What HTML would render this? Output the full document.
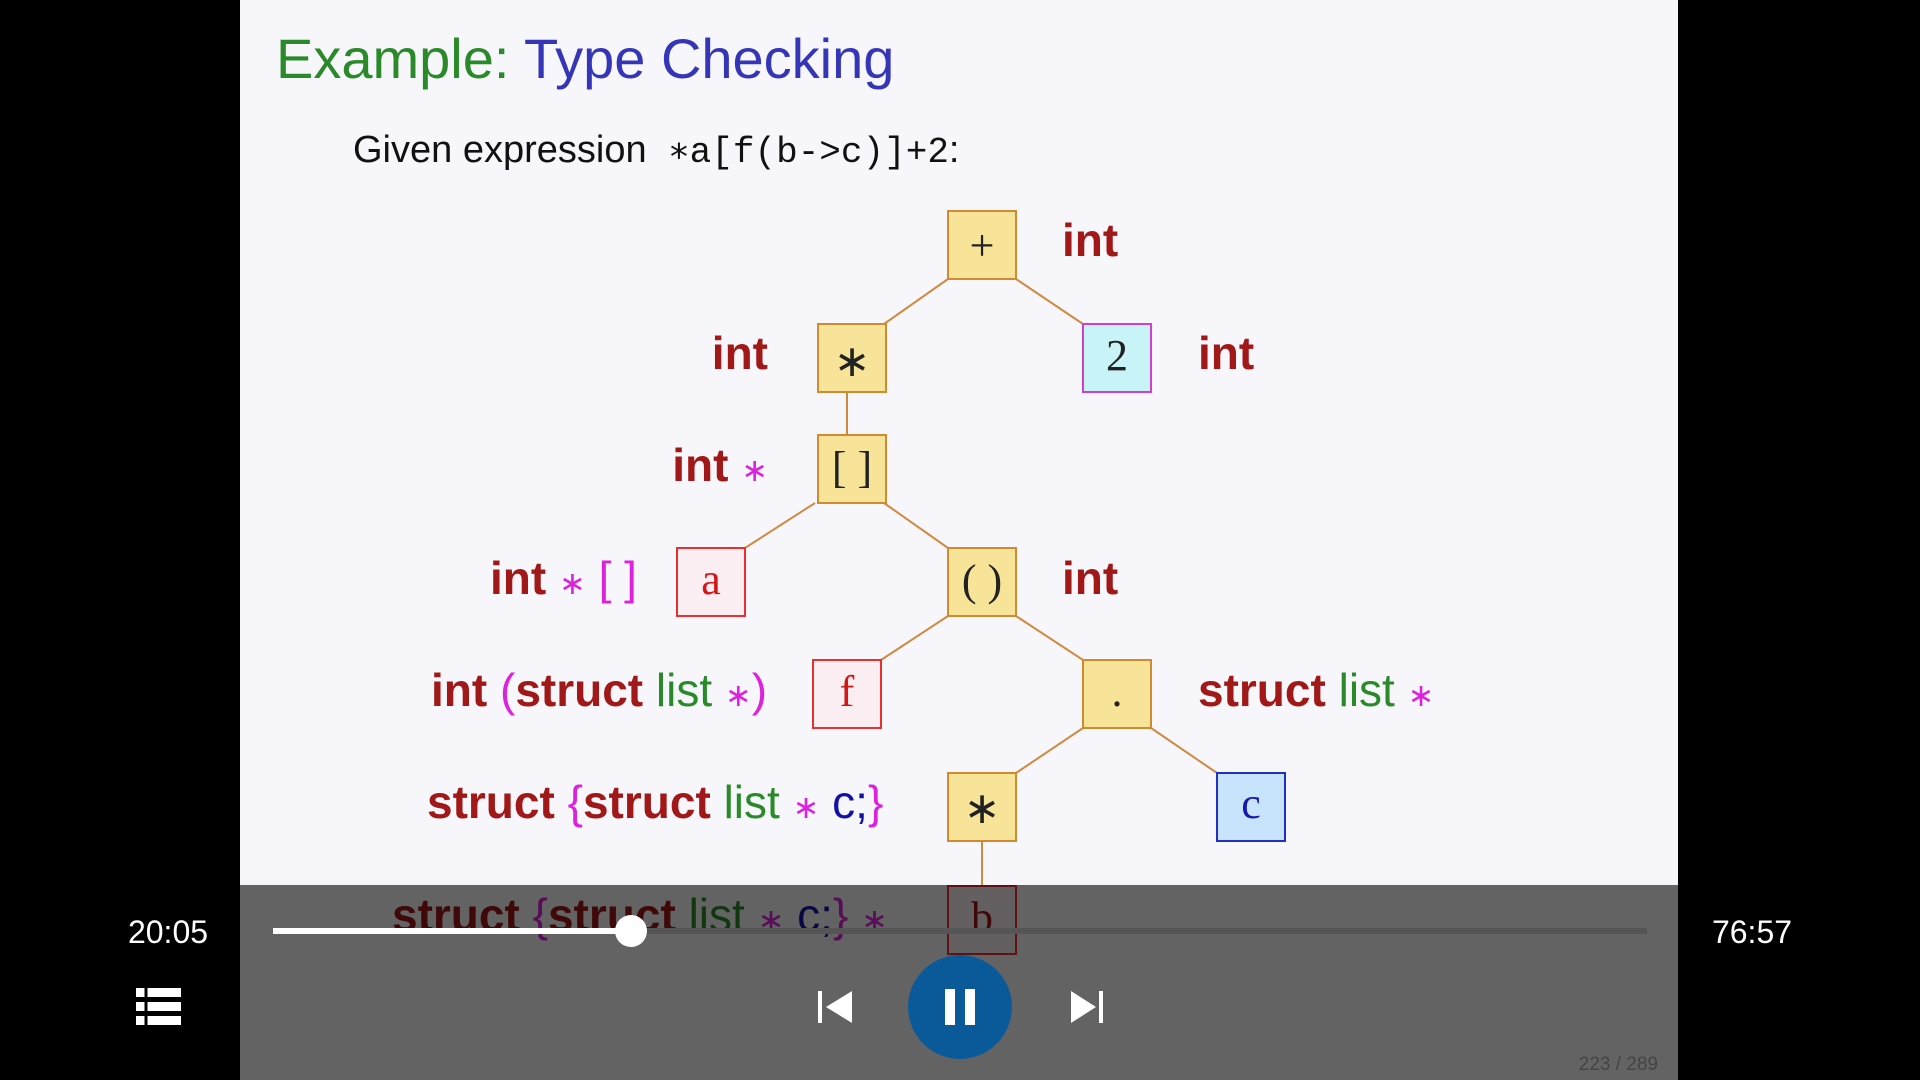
<!DOCTYPE html>
<html><head><meta charset="utf-8"><style>
html,body{margin:0;padding:0;width:1920px;height:1080px;overflow:hidden;background:#000}
svg{display:block}
.l{font-family:"Liberation Sans",sans-serif;font-weight:bold;font-size:46px;fill:#a01818}
.n{font-weight:normal}
.g{fill:#2a8a2a}.m{fill:#dd22dd;font-weight:normal}.b{fill:#1212a8}
.s{font-size:32px}
.bx{font-family:"Liberation Serif",serif;font-size:44px;text-anchor:middle}
</style></head><body>
<svg width="1920" height="1080" viewBox="0 0 1920 1080" xmlns="http://www.w3.org/2000/svg">
<rect x="0" y="0" width="1920" height="1080" fill="#000"/>
<rect x="240" y="0" width="1438" height="1080" fill="#f7f7fb"/>
<text x="276" y="78" font-family="Liberation Sans,sans-serif" font-size="56" fill="#2a8a2a">Example: <tspan fill="#3535b8">Type Checking</tspan></text>
<text x="353" y="162" font-family="Liberation Sans,sans-serif" font-size="38" fill="#111">Given expression <tspan x="668" font-family="Liberation Mono,monospace" font-size="36">∗a[f(b-&gt;c)]+2</tspan>:</text>
<g stroke="#d08a40" stroke-width="2">
<line x1="948" y1="279" x2="884" y2="324"/><line x1="1016" y1="279" x2="1083" y2="324"/>
<line x1="847" y1="392" x2="847" y2="435"/>
<line x1="815" y1="503" x2="745" y2="548"/><line x1="884" y1="503" x2="948" y2="548"/>
<line x1="948" y1="616" x2="881" y2="660"/><line x1="1016" y1="616" x2="1083" y2="660"/>
<line x1="1083" y1="728" x2="1016" y2="773"/><line x1="1151" y1="728" x2="1217" y2="773"/>
<line x1="982" y1="841" x2="982" y2="886"/>
</g>
<g stroke-width="2">
<rect x="948" y="211" width="68" height="68" fill="#f8e498" stroke="#d08a30"/>
<rect x="818" y="324" width="68" height="68" fill="#f8e498" stroke="#d08a30"/>
<rect x="1083" y="324" width="68" height="68" fill="#c8f4f8" stroke="#d040d0"/>
<rect x="818" y="435" width="68" height="68" fill="#f8e498" stroke="#d08a30"/>
<rect x="677" y="548" width="68" height="68" fill="#fbeef2" stroke="#e83030"/>
<rect x="948" y="548" width="68" height="68" fill="#f8e498" stroke="#d08a30"/>
<rect x="813" y="660" width="68" height="68" fill="#fbeef2" stroke="#e83030"/>
<rect x="1083" y="660" width="68" height="68" fill="#f8e498" stroke="#d08a30"/>
<rect x="948" y="773" width="68" height="68" fill="#f8e498" stroke="#d08a30"/>
<rect x="1217" y="773" width="68" height="68" fill="#c8e4fc" stroke="#2030c0"/>
<rect x="948" y="886" width="68" height="68" fill="#fbeef2" stroke="#e83030"/>
</g>
<text class="bx" x="982" y="260" fill="#222">+</text>
<text class="bx" x="852" y="376" fill="#222" font-size="34">∗</text>
<text class="bx" x="1117" y="370" fill="#222">2</text>
<text class="bx" x="852" y="482" fill="#222">[ ]</text>
<text class="bx" x="711" y="594" fill="#d01818">a</text>
<text class="bx" x="982" y="595" fill="#222">( )</text>
<text class="bx" x="847" y="706" fill="#d01818">f</text>
<text class="bx" x="1117" y="706" fill="#222">.</text>
<text class="bx" x="982" y="823" fill="#222" font-size="34">∗</text>
<text class="bx" x="1251" y="818" fill="#1818b0">c</text>
<text class="bx" x="982" y="932" fill="#a01818">b</text>
<text class="l" x="1062" y="256">int</text>
<text class="l" x="768" y="369" text-anchor="end">int</text>
<text class="l" x="1198" y="369">int</text>
<text class="l" x="768" y="481" text-anchor="end">int <tspan class="m s">∗</tspan></text>
<text class="l" x="490" y="594">int <tspan class="m s">∗</tspan> <tspan class="m">[ ]</tspan></text>
<text class="l" x="1062" y="594">int</text>
<text class="l" x="431" y="706">int <tspan class="m">(</tspan>struct <tspan class="g n">list</tspan> <tspan class="m s">∗</tspan><tspan class="m">)</tspan></text>
<text class="l" x="1198" y="706">struct <tspan class="g n">list</tspan> <tspan class="m s">∗</tspan></text>
<text class="l" x="427" y="818">struct <tspan class="m">{</tspan>struct <tspan class="g n">list</tspan> <tspan class="m s">∗</tspan> <tspan class="b n">c;</tspan><tspan class="m">}</tspan></text>
<text class="l" x="392" y="931">struct <tspan class="m">{</tspan>struct <tspan class="g n">list</tspan> <tspan class="m s">∗</tspan> <tspan class="b n">c;</tspan><tspan class="m">}</tspan> <tspan class="m s">∗</tspan></text>
<rect x="240" y="885" width="1438" height="195" fill="#000" fill-opacity="0.6"/>
<text x="168" y="943" font-family="Liberation Sans,sans-serif" font-size="32" fill="#fff" text-anchor="middle">20:05</text>
<text x="1752" y="943" font-family="Liberation Sans,sans-serif" font-size="32" fill="#fff" text-anchor="middle">76:57</text>
<rect x="631" y="928" width="1016" height="6" fill="#555"/>
<rect x="273" y="928" width="358" height="6" fill="#fff"/>
<circle cx="631" cy="931" r="16" fill="#fff"/>
<g fill="#fff"><rect x="136" y="988" width="45" height="9"/><rect x="136" y="1002" width="45" height="9"/><rect x="136" y="1016" width="45" height="9"/></g>
<g stroke="#000" stroke-width="3"><line x1="146" y1="986" x2="146" y2="1027"/></g>
<g fill="#fff"><rect x="818" y="991" width="4" height="32"/><polygon points="852,991 852,1023 826,1007"/>
<rect x="1099" y="991" width="4" height="32"/><polygon points="1071,991 1071,1023 1096,1007"/></g>
<circle cx="960" cy="1007" r="52" fill="#0a5a9a"/>
<g fill="#fff"><rect x="945" y="989" width="10" height="36"/><rect x="965" y="989" width="10" height="36"/></g>
<text x="1658" y="1070" font-family="Liberation Sans,sans-serif" font-size="19" fill="#444" text-anchor="end">223 / 289</text>
</svg>
</body></html>
